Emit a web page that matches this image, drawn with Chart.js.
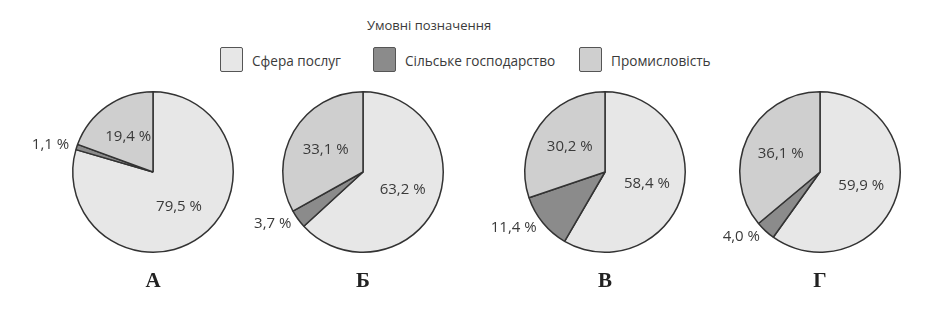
<!DOCTYPE html>
<html>
<head>
<meta charset="utf-8">
<script src="https://cdn.jsdelivr.net/npm/chart.js@4"></script>
<style>
  body { margin: 0; background: #fff; }
  #wrap { position: relative; width: 940px; height: 312px; font-family: "Open Sans", sans-serif; color: #3a3a3a; }
  canvas { position: absolute; left: 0; top: 0; }
  .t { position: absolute; white-space: nowrap; }
  .box { position: absolute; width: 23px; height: 25px; border: 1.5px solid #555; border-radius: 2px; box-sizing: border-box; }
  .name { position: absolute; font-family: "Liberation Serif", serif; font-weight: bold; font-size: 21px; color: #222; transform: translate(-50%, -50%); }
</style>
</head>
<body>
<div id="wrap">
  <div class="t" style="left:429px;top:25px;transform:translate(-50%,-50%);font-size:13px;">Умовні позначення</div>
  <div id="legend"></div>
  <canvas id="c0" width="940" height="312"></canvas>
  <canvas id="c1" width="940" height="312"></canvas>
  <canvas id="c2" width="940" height="312"></canvas>
  <canvas id="c3" width="940" height="312"></canvas>
</div>
<script>
const categories = ['Сфера послуг', 'Сільське господарство', 'Промисловість']
const chartNames = ['А', 'Б', 'В', 'Г']
const servicesValues = [79.5, 63.2, 58.4, 59.9]
const agricultureValues = [1.1, 3.7, 11.4, 4.0]
const industryValues = [19.4, 33.1, 30.2, 36.1]

const colors = ['#e7e7e7', '#8b8b8b', '#cfcfcf']
const centersX = [153, 363, 605, 820]
const centerY = 172
const radius = 81

// legend
const legendX = [220, 373, 579]
const legend = document.getElementById('legend')
categories.forEach((cat, i) => {
  const b = document.createElement('div')
  b.className = 'box'
  b.style.left = legendX[i] + 'px'
  b.style.top = '47px'
  b.style.background = colors[i]
  legend.appendChild(b)
  const t = document.createElement('div')
  t.className = 't'
  t.style.left = (legendX[i] + 32) + 'px'
  t.style.top = '60px'
  t.style.transform = 'translateY(-50%)'
  t.style.fontSize = '13.6px'
  t.textContent = cat
  legend.appendChild(t)
})

function fmt(v) {
  return v.toFixed(1).replace('.', ',') + ' %'
}

const labelPlugin = {
  id: 'sliceLabels',
  afterDatasetsDraw(chart) {
    const ctx = chart.ctx
    const meta = chart.getDatasetMeta(0)
    const values = chart.data.datasets[0].data
    ctx.save()
    ctx.font = '15px "Open Sans", sans-serif'
    ctx.fillStyle = '#3a3a3a'
    ctx.textBaseline = 'middle'
    meta.data.forEach((arc, i) => {
      const p = arc.getProps(['x', 'y', 'startAngle', 'endAngle', 'outerRadius'], true)
      const mid = (p.startAngle + p.endAngle) / 2
      if (i == 1) {
        const d = p.outerRadius * 1.1
        ctx.textAlign = Math.cos(mid) < 0 ? 'right' : 'left'
        ctx.fillText(fmt(values[i]), p.x + Math.cos(mid) * d, p.y + Math.sin(mid) * d)
      } else {
        const d = p.outerRadius * 0.54
        ctx.textAlign = 'center'
        ctx.fillText(fmt(values[i]), p.x + Math.cos(mid) * d, p.y + Math.sin(mid) * d)
      }
    })
    ctx.restore()
  }
}

chartNames.forEach((name, k) => {
  const ctx = document.getElementById('c' + k).getContext('2d')
  new Chart(ctx, {
    type: 'pie',
    data: {
      labels: categories,
      datasets: [{
        data: [servicesValues[k], agricultureValues[k], industryValues[k]],
        backgroundColor: colors,
        borderColor: '#333',
        borderWidth: 1.5
      }]
    },
    options: {
      responsive: false,
      animation: false,
      events: [],
      layout: {
        padding: {
          left: centersX[k] - radius,
          right: 940 - centersX[k] - radius,
          top: centerY - radius,
          bottom: 312 - centerY - radius
        }
      },
      plugins: { legend: { display: false }, tooltip: { enabled: false } }
    },
    plugins: [labelPlugin]
  })

  const n = document.createElement('div')
  n.className = 'name'
  n.style.left = centersX[k] + 'px'
  n.style.top = '280px'
  n.textContent = name
  document.getElementById('wrap').appendChild(n)
})
</script>
</body>
</html>
